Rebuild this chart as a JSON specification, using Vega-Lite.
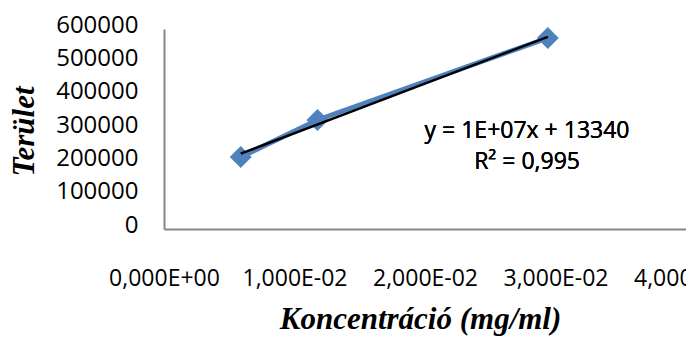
{
  "$schema": "https://vega.github.io/schema/vega-lite/v6.json",
  "autosize": {"type": "none"},
  "width": 522,
  "height": 200,
  "padding": {"left": 164, "top": 29, "right": 0, "bottom": 113},
  "background": "white",
  "config": {
    "view": {"stroke": null},
    "axis": {
      "grid": false,
      "ticks": false,
      "domainColor": "#868686",
      "domainWidth": 2,
      "labelFont": "Open Sans",
      "labelFontWeight": "normal",
      "labelColor": "#000000",
      "titleFont": "Liberation Serif",
      "titleFontWeight": "bold",
      "titleFontStyle": "italic",
      "titleColor": "#000000",
      "titleFontSize": 31
    }
  },
  "data": {
    "values": [
      {"konc": 0.00588, "terulet": 216000},
      {"konc": 0.01176, "terulet": 327000},
      {"konc": 0.02941, "terulet": 573000}
    ]
  },
  "encoding": {
    "x": {
      "field": "konc",
      "type": "quantitative",
      "scale": {"domain": [0, 0.04], "nice": false, "zero": true},
      "axis": {
        "title": "Koncentráció (mg/ml)",
        "values": [0, 0.01, 0.02, 0.03, 0.04],
        "labelExpr": "datum.value == 0 ? '0,000E+00' : replace(replace(format(datum.value, '.3e'), '.', ','), 'e-', 'E-0')",
        "labelFontSize": 23,
        "labelPadding": 38,
        "labelFlush": false,
        "labelOverlap": false,
        "titleX": 256,
        "titleY": 99,
        "titleBaseline": "alphabetic"
      }
    },
    "y": {
      "field": "terulet",
      "type": "quantitative",
      "scale": {"domain": [0, 600000], "nice": false},
      "axis": {
        "title": "Terület",
        "values": [0, 100000, 200000, 300000, 400000, 500000, 600000],
        "format": "d",
        "labelFontSize": 24,
        "labelPadding": 26,
        "labelOffset": -4,
        "titleX": -131,
        "titleY": 102,
        "titleBaseline": "alphabetic"
      }
    }
  },
  "layer": [
    {"mark": {"type": "line", "color": "#4F81BD", "strokeWidth": 5}},
    {"mark": {"type": "point", "shape": "diamond", "filled": true, "color": "#4F81BD", "opacity": 1, "size": 480}},
    {
      "transform": [{"regression": "terulet", "on": "konc"}],
      "mark": {"type": "line", "color": "#000000", "strokeWidth": 2.5}
    },
    {
      "mark": {
        "type": "text",
        "text": ["y = 1E+07x + 13340", "R² = 0,995"],
        "font": "Open Sans",
        "fontWeight": "normal",
        "fontSize": 23,
        "lineHeight": 31,
        "align": "center",
        "baseline": "middle",
        "color": "#000000"
      },
      "encoding": {
        "x": {"datum": 0.02782},
        "y": {"datum": 294000}
      }
    }
  ]
}
